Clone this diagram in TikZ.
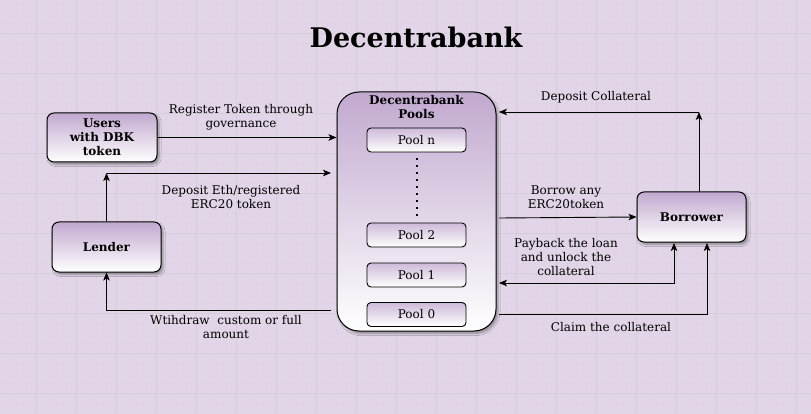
\documentclass[tikz,border=0pt]{standalone}
\usepackage{fontspec}
\setmainfont{DejaVu Serif}
\usetikzlibrary{arrows.meta,shadows.blur}
\definecolor{bgpurple}{RGB}{225,213,231}
\definecolor{boxtop}{RGB}{193,169,207}
\definecolor{gridminor}{RGB}{223,212,229}
\definecolor{gridmajor}{RGB}{213,205,217}
\tikzset{
  box/.style={draw=black,line width=1pt,rounded corners=7pt,top color=boxtop,bottom color=white,
    align=center,font=\fontsize{12}{14}\selectfont\bfseries,
    blur shadow={shadow xshift=2pt,shadow yshift=-2.5pt,shadow opacity=35,shadow blur steps=5}},
  poolbox/.style={draw=black,line width=0.9pt,rounded corners=4pt,top color=boxtop!80,bottom color=white,
    minimum width=99pt,minimum height=24pt,font=\fontsize{12}{14}\selectfont},
  lbl/.style={align=center,font=\fontsize{12}{14}\selectfont},
  arr/.style={line width=0.9pt,-{Stealth[length=8pt,width=6.5pt,inset=2pt]}},
  arrs/.style={line width=0.9pt,{Stealth[length=8pt,width=6.5pt,inset=2pt]}-{Stealth[length=8pt,width=6.5pt,inset=2pt]}}
}
\begin{document}
\begin{tikzpicture}[x=1pt,y=-1pt]
  \fill[bgpurple] (0,0) rectangle (811,414);
  \useasboundingbox (0,0) rectangle (811,414);
  \foreach \x in {6,16,...,806} \draw[gridminor,line width=0.5pt] (\x,0) -- (\x,414);
  \foreach \y in {3,13,...,413} \draw[gridminor,line width=0.5pt] (0,\y) -- (811,\y);
  \foreach \x in {36,76,...,796} \draw[gridmajor,line width=0.8pt] (\x,0) -- (\x,414);
  \foreach \y in {33,73,...,393} \draw[gridmajor,line width=0.8pt] (0,\y) -- (811,\y);

  \node[font=\fontsize{27}{30}\selectfont\bfseries] (title) at (416,37) {Decentrabank};

  \node[box,minimum width=110pt,minimum height=49pt] (users) at (102,137.5) {Users\\with DBK\\token};
  \node[box,minimum width=109pt,minimum height=50pt] (lender) at (106.5,247) {Lender};
  \node[box,minimum width=109pt,minimum height=50pt] (borrower) at (691.5,217) {Borrower};
  \node[box,rounded corners=22pt,minimum width=159pt,minimum height=239pt] (pools) at (416.5,211.5) {};
  \node[align=center,font=\fontsize{12}{14}\selectfont\bfseries] (poolstitle) at (416.5,107) {Decentrabank\\Pools};

  \node[poolbox] (pooln) at (416.5,140) {Pool n};
  \node[poolbox] (pool2) at (416.5,235) {Pool 2};
  \node[poolbox] (pool1) at (416.5,275) {Pool 1};
  \node[poolbox] (pool0) at (416.5,314.5) {Pool 0};
  \draw[line width=2pt,dash pattern=on 2pt off 5pt,shorten <=6pt,shorten >=5pt] (pooln.south) -- (pool2.north);

  % left side
  \coordinate (lc) at (106.5,173);
  \coordinate (ld) at (331,173);
  \coordinate (wd) at (331,310);
  \draw[arr] (users.east) -- (users.east -| pools.west);
  \draw[arr] (lender.north) -- (lc);
  \draw[arr] (lc) -- (ld);
  \draw[arr] (wd) -| (lender.south);

  % right side
  \coordinate (bc) at (699,192);
  \coordinate (dc) at (699,112);
  \coordinate (de) at (499,112);
  \coordinate (bw) at (499,218);
  \coordinate (pb) at (674,283);
  \coordinate (pl) at (499,283);
  \coordinate (pt) at (674,243);
  \coordinate (cl) at (499,314);
  \coordinate (cb) at (707,243);
  \draw[arr] (bc) -- (dc);
  \draw[arr] (dc) -- (de);
  \draw[arr] (bw) -- (borrower.west);
  \draw[arrs] (pl) -- (pb) -- (pt);
  \draw[arr] (cl) -| (cb);

  \node[lbl] (lreg) at (241,117) {Register Token through\\governance};
  \node[lbl] (ldep) at (231,197) {Deposit Eth/registered\\ERC20 token};
  \node[lbl] (lwd) at (226,327) {Wtihdraw\ \ custom or full\\amount};
  \node[lbl] (ldcol) at (596,97) {Deposit Collateral};
  \node[lbl] (lbor) at (566,197) {Borrow any\\ERC20token};
  \node[lbl] (lpay) at (566,257) {Payback the loan\\and unlock the\\collateral};
  \node[lbl] (lclaim) at (611,327) {Claim the collateral};
\end{tikzpicture}
\end{document}
